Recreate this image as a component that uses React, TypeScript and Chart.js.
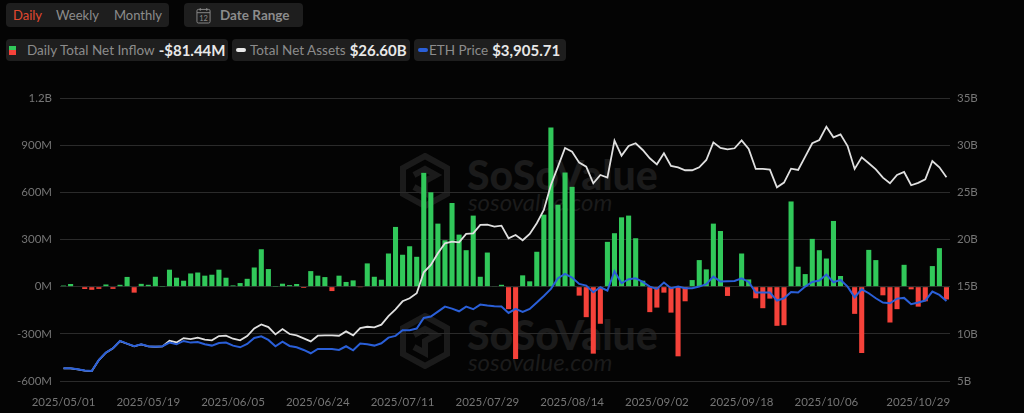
import { Chart, registerables } from "chart.js";
import React, { useEffect, useRef } from "react";

Chart.register(...registerables);

const dates = [
  "2025/05/01", "2025/05/02", "2025/05/05", "2025/05/06", "2025/05/07", "2025/05/08", "2025/05/09",
  "2025/05/12", "2025/05/13", "2025/05/14", "2025/05/15", "2025/05/16", "2025/05/19", "2025/05/20",
  "2025/05/21", "2025/05/22", "2025/05/23", "2025/05/27", "2025/05/28", "2025/05/29", "2025/05/30",
  "2025/06/02", "2025/06/03", "2025/06/04", "2025/06/05", "2025/06/06", "2025/06/09", "2025/06/10",
  "2025/06/11", "2025/06/12", "2025/06/13", "2025/06/16", "2025/06/17", "2025/06/18", "2025/06/20",
  "2025/06/23", "2025/06/24", "2025/06/25", "2025/06/26", "2025/06/27", "2025/06/30", "2025/07/01",
  "2025/07/02", "2025/07/03", "2025/07/07", "2025/07/08", "2025/07/09", "2025/07/10", "2025/07/11",
  "2025/07/14", "2025/07/15", "2025/07/16", "2025/07/17", "2025/07/18", "2025/07/21", "2025/07/22",
  "2025/07/23", "2025/07/24", "2025/07/25", "2025/07/28", "2025/07/29", "2025/07/30", "2025/07/31",
  "2025/08/01", "2025/08/04", "2025/08/05", "2025/08/06", "2025/08/07", "2025/08/08", "2025/08/11",
  "2025/08/12", "2025/08/13", "2025/08/14", "2025/08/15", "2025/08/18", "2025/08/19", "2025/08/20",
  "2025/08/21", "2025/08/22", "2025/08/25", "2025/08/26", "2025/08/27", "2025/08/28", "2025/08/29",
  "2025/09/02", "2025/09/03", "2025/09/04", "2025/09/05", "2025/09/08", "2025/09/09", "2025/09/10",
  "2025/09/11", "2025/09/12", "2025/09/15", "2025/09/16", "2025/09/17", "2025/09/18", "2025/09/19",
  "2025/09/22", "2025/09/23", "2025/09/24", "2025/09/25", "2025/09/26", "2025/09/29", "2025/09/30",
  "2025/10/01", "2025/10/02", "2025/10/03", "2025/10/06", "2025/10/07", "2025/10/08", "2025/10/09",
  "2025/10/10", "2025/10/13", "2025/10/14", "2025/10/15", "2025/10/16", "2025/10/17", "2025/10/20",
  "2025/10/21", "2025/10/22", "2025/10/23", "2025/10/24", "2025/10/27", "2025/10/28", "2025/10/29",
];

// millions of USD
const netInflow = [
  7, 17, 0, -15, -20, -14, 14, -14, 12, 62, -38, 18, 12, 63, 1, 108, 57, 38, 84, 90, 70, 76, 108, 57, 8, 23, 50, 122, 238, 112, 1,
  19, 10, 17, -8, 99, 70, 61, -28, 70, 30, 40, -1, 148, 63, 44, 211, 380, 203, 257, 190, 724, 600, 401, 295, 532, 331, 232, 452, 63, 217,
  4, 12, -143, -460, 72, 34, 222, 458, 1013, 521, 726, 635, -57, -194, -426, -236, 285, 340, 441, 452, 308, 38, -162, -133, -38, -165, -443, -93,
  42, 169, 110, 401, 354, -59, 0, 211, 46, -74, -137, -76, -249, -245, 542, 127, 80, 304, 232, 179, 418, 68, -4, -173, -422, 234, 169, -55, -228, -143,
  139, -17, -127, -93, 131, 245, -81.44,
];

// billions of USD
const totalNetAssets = [
  6.34, 6.34, 6.23, 6.09, 6.06, 7.22, 8.0, 8.46, 9.23, 8.95, 8.67, 8.88, 8.67, 8.63, 8.67, 9.27, 9.09, 9.55, 9.45, 9.59, 9.38, 9.31, 9.76, 9.8, 9.48, 9.31,
  9.76, 10.58, 11.0, 10.72, 9.94, 10.51, 9.98, 9.84, 9.52, 9.2, 9.8, 9.84, 9.84, 9.8, 10.26, 9.84, 10.61, 10.75, 10.68, 10.97, 11.88, 12.6, 13.45, 13.77, 14.3,
  16.52, 17.3, 18.54, 19.6, 19.77, 19.7, 20.59, 20.66, 21.54, 21.58, 21.37, 21.47, 20.13, 20.48, 19.92, 20.59, 21.72, 23.13, 25.78, 27.72, 29.7, 29.31, 28.15, 27.72,
  25.96, 26.84, 26.56, 30.48, 28.89, 29.91, 30.2, 29.49, 28.61, 27.97, 29.14, 27.8, 27.65, 27.34, 27.34, 27.65, 28.43, 30.3, 29.7, 29.56, 29.67, 30.51, 29.6, 27.48, 27.48,
  27.41, 25.53, 26.03, 27.51, 27.37, 28.78, 30.2, 30.55, 31.96, 30.83, 31.15, 29.91, 27.48, 28.71, 28.08, 27.44, 26.56, 25.96, 26.84, 27.16, 25.75, 26.0, 26.38, 28.32, 27.65, 26.6,
];

const ethPrice = [
  1862, 1862, 1832, 1791, 1781, 2115, 2338, 2470, 2693, 2612, 2531, 2591, 2531, 2520, 2531, 2642, 2591, 2693, 2642, 2662, 2591, 2551, 2632, 2642, 2551, 2500,
  2601, 2784, 2835, 2723, 2531, 2672, 2541, 2500, 2419, 2318, 2450, 2450, 2450, 2419, 2531, 2409, 2612, 2591, 2551, 2622, 2794, 2846, 3018, 3018, 3069,
  3393, 3433, 3585, 3737, 3676, 3595, 3737, 3656, 3798, 3768, 3747, 3737, 3545, 3666, 3575, 3666, 3859, 4061, 4274, 4598, 4730, 4618, 4426, 4375,
  4173, 4325, 4223, 4811, 4446, 4568, 4598, 4487, 4345, 4274, 4467, 4294, 4345, 4294, 4294, 4345, 4416, 4649, 4497, 4507, 4517, 4598, 4487, 4163, 4163,
  4163, 3920, 3990, 4183, 4163, 4345, 4487, 4527, 4710, 4477, 4548, 4345, 4021, 4264, 4143, 3990, 3859, 3839, 3980, 4001, 3808, 3859, 3920, 4193, 4092, 3905.71,
];

const inflowTicks = [-600, -300, 0, 300, 600, 900, 1200];

const FONT = "Lato, 'Open Sans', sans-serif";
const TICK_COLOR = "#757575";

const pill: React.CSSProperties = {
  position: "absolute",
  background: "#1e1e1e",
  borderRadius: 4,
  display: "flex",
  alignItems: "center",
  whiteSpace: "nowrap",
  boxSizing: "border-box",
};

const Watermark = ({ top }: { top: number }) => (
  <div style={{ position: "absolute", left: 400, top, width: 270, height: 56, color: "#1b1b1b" }}>
    <svg width="50" height="56" viewBox="0 0 50 56" style={{ position: "absolute", left: 0, top: 0 }}>
      <path d="M25 3 L47 15 L47 41 L25 53 L3 41 L3 15 Z" fill="none" stroke="#1b1b1b" strokeWidth="6" />
      <path d="M14 22 L25 16 L36 22 L25 28 L25 40 L14 34" fill="none" stroke="#1b1b1b" strokeWidth="6" />
    </svg>
    <div style={{ position: "absolute", left: 67, top: 0, fontSize: 41, lineHeight: "44px", fontWeight: 900 }}>SoSoValue</div>
    <div style={{ position: "absolute", left: 68, top: 36, fontSize: 24, lineHeight: "26px", fontStyle: "italic" }}>sosovalue.com</div>
  </div>
);

const LegendValue = ({ children }: { children: React.ReactNode }) => (
  <span style={{ color: "#e8e8e8", fontWeight: 700, fontSize: 15, marginLeft: 4 }}>{children}</span>
);

export default function App() {
  const canvasRef = useRef<HTMLCanvasElement>(null);

  useEffect(() => {
    document.body.style.margin = "0";
    document.body.style.background = "#040404";
    const ctx = canvasRef.current?.getContext("2d");
    if (!ctx) return;

    const chart = new Chart(ctx, {
      type: "bar",
      data: {
        labels: dates,
        datasets: [
          {
            type: "line",
            label: "ETH Price",
            data: ethPrice,
            yAxisID: "yPrice",
            borderColor: "#2a5fd8",
            borderWidth: 2,
            pointRadius: 0,
            order: 1,
          },
          {
            type: "line",
            label: "Total Net Assets",
            data: totalNetAssets,
            yAxisID: "yAssets",
            borderColor: "#e0e0e0",
            borderWidth: 1.8,
            pointRadius: 0,
            order: 2,
          },
          {
            type: "bar",
            label: "Daily Total Net Inflow",
            data: netInflow,
            yAxisID: "yInflow",
            backgroundColor: netInflow.map((v) => (v < 0 ? "#f5423a" : "#31c85a")),
            barPercentage: 0.72,
            categoryPercentage: 1,
            order: 3,
          },
        ],
      },
      options: {
        responsive: false,
        animation: false,
        layout: { padding: { top: 98 } },
        plugins: { legend: { display: false }, tooltip: { enabled: false } },
        scales: {
          x: {
            grid: { display: false },
            border: { display: false },
            afterFit: (s: any) => {
              s.height = 32;
            },
            ticks: {
              autoSkip: false,
              maxRotation: 0,
              padding: 6,
              color: TICK_COLOR,
              font: { family: FONT, size: 11.5 },
              // the last label is pulled in from its own date so it stays inside the plot
              callback: (_v: any, i: number) => {
                if (i === 121) return dates[dates.length - 1];
                return i % 12 === 0 && i < 120 ? dates[i] : "";
              },
            },
          },
          yInflow: {
            position: "left",
            min: -600,
            max: 1200,
            afterFit: (s: any) => {
              s.width = 60;
            },
            afterBuildTicks: (s: any) => {
              s.ticks = inflowTicks.map((value) => ({ value }));
            },
            grid: { color: "#2b2b2b", lineWidth: 1, drawTicks: false },
            border: { display: false },
            ticks: {
              padding: 8,
              color: TICK_COLOR,
              font: { family: FONT, size: 11.5 },
              callback: (v: any) => (Math.abs(v) >= 1000 ? `${v / 1000}B` : `${v}M`),
            },
          },
          yAssets: {
            position: "right",
            min: 5,
            max: 35,
            afterFit: (s: any) => {
              s.width = 74;
            },
            grid: { display: false, drawTicks: false },
            border: { display: false },
            ticks: {
              stepSize: 5,
              padding: 7,
              color: TICK_COLOR,
              font: { family: FONT, size: 11.5 },
              callback: (v: any) => `${v}B`,
            },
          },
          yPrice: { display: false, min: 1475, max: 10078 },
        },
      },
    });

    return () => chart.destroy();
  }, []);

  return (
    <div style={{ position: "relative", width: 1024, height: 413, overflow: "hidden", fontFamily: FONT, fontSize: 13.5, color: "#8c8c8c" }}>
      <Watermark top={153} />
      <Watermark top={313} />

      <div style={{ ...pill, left: 6, top: 3, width: 163, height: 24, fontSize: 13 }}>
        <span style={{ marginLeft: 7, color: "#e2492f" }}>Daily</span>
        <span style={{ marginLeft: 14 }}>Weekly</span>
        <span style={{ marginLeft: 15 }}>Monthly</span>
      </div>
      <div style={{ ...pill, left: 184, top: 3, width: 119, height: 24 }}>
        <svg width="15" height="17" viewBox="0 0 16 18" style={{ marginLeft: 12 }}>
          <rect x="1" y="2.5" width="14" height="14.5" rx="1.5" fill="none" stroke="#8c8c8c" />
          <path d="M1 6 H15 M4.5 1 V4 M11.5 1 V4" stroke="#8c8c8c" />
          <text x="8" y="14.5" fontSize="8" textAnchor="middle" fill="#8c8c8c" fontFamily={FONT}>12</text>
        </svg>
        <span style={{ marginLeft: 9, fontWeight: 700 }}>Date Range</span>
      </div>

      <div style={{ ...pill, left: 6, top: 39, width: 222, height: 22 }}>
        <span style={{ marginLeft: 3, width: 7, height: 9, display: "inline-block", background: "linear-gradient(#31c85a 50%, #f5423a 50%)" }} />
        <span style={{ marginLeft: 11 }}>Daily Total Net Inflow</span>
        <LegendValue>-$81.44M</LegendValue>
      </div>
      <div style={{ ...pill, left: 232, top: 39, width: 178, height: 22 }}>
        <span style={{ marginLeft: 4, width: 10, height: 4, borderRadius: 2, display: "inline-block", background: "#e8e8e8" }} />
        <span style={{ marginLeft: 4 }}>Total Net Assets</span>
        <LegendValue>$26.60B</LegendValue>
      </div>
      <div style={{ ...pill, left: 414, top: 39, width: 152, height: 22 }}>
        <span style={{ marginLeft: 4, width: 10, height: 4, borderRadius: 2, display: "inline-block", background: "#2a5fd8" }} />
        <span style={{ marginLeft: 1 }}>ETH Price</span>
        <LegendValue>$3,905.71</LegendValue>
      </div>

      <canvas ref={canvasRef} width={1024} height={413} style={{ position: "absolute", left: 0, top: 0 }} />
    </div>
  );
}
